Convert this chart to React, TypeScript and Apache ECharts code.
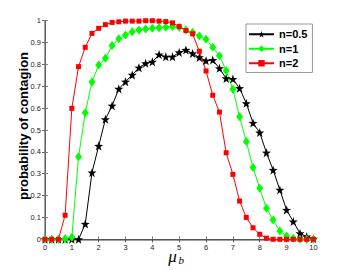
import React, { useEffect, useRef } from "react";
import * as echarts from "echarts";

const xValues = [0, 0.25, 0.5, 0.75, 1, 1.25, 1.5, 1.75, 2, 2.25, 2.5, 2.75, 3, 3.25, 3.5, 3.75, 4, 4.25, 4.5, 4.75, 5, 5.25, 5.5, 5.75, 6, 6.25, 6.5, 6.75, 7, 7.25, 7.5, 7.75, 8, 8.25, 8.5, 8.75, 9, 9.25, 9.5, 9.75, 10];

const n05 = [0, 0, 0, 0, 0, 0, 0.07, 0.305, 0.427, 0.549, 0.611, 0.688, 0.721, 0.752, 0.785, 0.805, 0.812, 0.845, 0.835, 0.835, 0.855, 0.866, 0.85, 0.832, 0.817, 0.82, 0.782, 0.736, 0.733, 0.691, 0.622, 0.532, 0.488, 0.396, 0.317, 0.226, 0.134, 0.081, 0.027, 0.012, 0.002];

const n1 = [0, 0, 0, 0.002, 0.009, 0.378, 0.579, 0.72, 0.797, 0.828, 0.886, 0.917, 0.935, 0.95, 0.957, 0.962, 0.965, 0.968, 0.97, 0.973, 0.97, 0.957, 0.947, 0.93, 0.915, 0.878, 0.84, 0.771, 0.686, 0.561, 0.447, 0.328, 0.233, 0.142, 0.088, 0.038, 0.015, 0.005, 0, 0, 0];

const n2 = [0, 0, 0, 0.11, 0.599, 0.79, 0.878, 0.942, 0.965, 0.982, 0.992, 0.995, 0.998, 0.998, 0.998, 1, 1, 0.998, 0.996, 0.99, 0.973, 0.955, 0.94, 0.86, 0.77, 0.659, 0.582, 0.396, 0.297, 0.175, 0.1, 0.053, 0.023, 0.005, 0, 0, 0, 0, 0, 0, 0];

const seriesNames = ["n=0.5", "n=1", "n=2"];
const yTitle = "probability of contagion";
const xTitleMain = "μ";
const xTitleSub = "b";

const STAR =
  "path://M0,-10L2.35,-3.24L9.51,-3.09L3.8,1.24L5.88,8.09L0,4L-5.88,8.09L-3.8,1.24L-9.51,-3.09L-2.35,-3.24Z";

export default function App() {
  const ref = useRef<HTMLDivElement>(null);
  useEffect(() => {
    const chart = echarts.init(ref.current!, null, { renderer: "svg" });
    const pair = (ys: number[]) => xValues.map((x, i) => [x, ys[i]]);
    const labelFont = {
      fontFamily: "Liberation Sans, Arial, sans-serif",
      fontSize: 7.5,
      color: "#222",
    };
    const baseX = {
      type: "value",
      min: 0,
      max: 10,
      interval: 1,
      splitLine: { show: false },
    };
    const baseY = {
      type: "value",
      min: 0,
      max: 1,
      interval: 0.1,
      splitLine: { show: false },
    };
    chart.setOption({
      animation: false,
      grid: { left: 45, right: 32.6, top: 20.7, bottom: 30.7, containLabel: false },
      xAxis: [
        {
          ...baseX,
          position: "bottom",
          axisLine: { show: true, lineStyle: { color: "#808080", width: 1.5 } },
          axisTick: { show: true, inside: true, length: 3, lineStyle: { color: "#808080" } },
          axisLabel: { ...labelFont, margin: 4 },
        },
        {
          ...baseX,
          position: "top",
          axisLine: { show: true, lineStyle: { color: "#555", width: 1 } },
          axisTick: { show: true, inside: true, length: 3, lineStyle: { color: "#555" } },
          axisLabel: { show: false },
        },
      ],
      yAxis: [
        {
          ...baseY,
          position: "left",
          axisLine: { show: true, lineStyle: { color: "#808080", width: 1.5 } },
          axisTick: { show: true, inside: true, length: 3, lineStyle: { color: "#808080" } },
          axisLabel: {
            ...labelFont,
            margin: 4,
            formatter: (v: number) => String(Math.round(v * 10) / 10),
          },
        },
        {
          ...baseY,
          position: "right",
          axisLine: { show: true, lineStyle: { color: "#666", width: 1 } },
          axisTick: { show: true, inside: true, length: 3, lineStyle: { color: "#666" } },
          axisLabel: { show: false },
        },
      ],
      legend: {
        orient: "vertical",
        left: 246,
        top: 24,
        data: seriesNames,
        backgroundColor: "#fff",
        borderColor: "#999",
        borderWidth: 1,
        padding: [4, 5, 3, 2],
        itemWidth: 25,
        itemHeight: 8,
        itemGap: 2,
        textStyle: {
          fontFamily: "Liberation Sans, Arial, sans-serif",
          fontWeight: "bold",
          fontSize: 11,
          lineHeight: 12.5,
          color: "#000",
        },
      },
      graphic: [
        {
          type: "text",
          x: 23,
          y: 126,
          rotation: Math.PI / 2,
          style: {
            text: yTitle,
            fontFamily: "Liberation Sans, Arial, sans-serif",
            fontWeight: "bold",
            fontSize: 13,
            fill: "#000",
            textAlign: "center",
            textVerticalAlign: "middle",
          },
        },
        {
          type: "text",
          x: 172.5,
          y: 256,
          style: {
            text: xTitleMain,
            fontFamily: "Liberation Serif, Times New Roman, serif",
            fontStyle: "italic",
            fontSize: 17,
            fill: "#000",
            textAlign: "center",
            textVerticalAlign: "middle",
          },
        },
        {
          type: "text",
          x: 178.5,
          y: 259.5,
          style: {
            text: xTitleSub,
            fontFamily: "Liberation Serif, Times New Roman, serif",
            fontStyle: "italic",
            fontSize: 11,
            fill: "#000",
            textAlign: "left",
            textVerticalAlign: "middle",
          },
        },
      ],
      series: [
        {
          name: seriesNames[0],
          type: "line",
          data: pair(n05),
          symbol: STAR,
          symbolSize: 9,
          color: "#000",
          lineStyle: { width: 1, color: "#000" },
          itemStyle: { color: "#000" },
        },
        {
          name: seriesNames[1],
          type: "line",
          data: pair(n1),
          symbol: "diamond",
          symbolSize: [7, 9],
          color: "#00ff00",
          lineStyle: { width: 1, color: "#00ff00" },
          itemStyle: { color: "#00ff00" },
        },
        {
          name: seriesNames[2],
          type: "line",
          data: pair(n2),
          symbol: "rect",
          symbolSize: 5,
          color: "#ff0000",
          lineStyle: { width: 1, color: "#ff0000" },
          itemStyle: { color: "#ff0000" },
        },
      ],
    });
    return () => chart.dispose();
  }, []);
  return (
    <div
      ref={ref}
      style={{ position: "fixed", left: 0, top: 0, width: 346, height: 270, background: "#fff" }}
    />
  );
}
